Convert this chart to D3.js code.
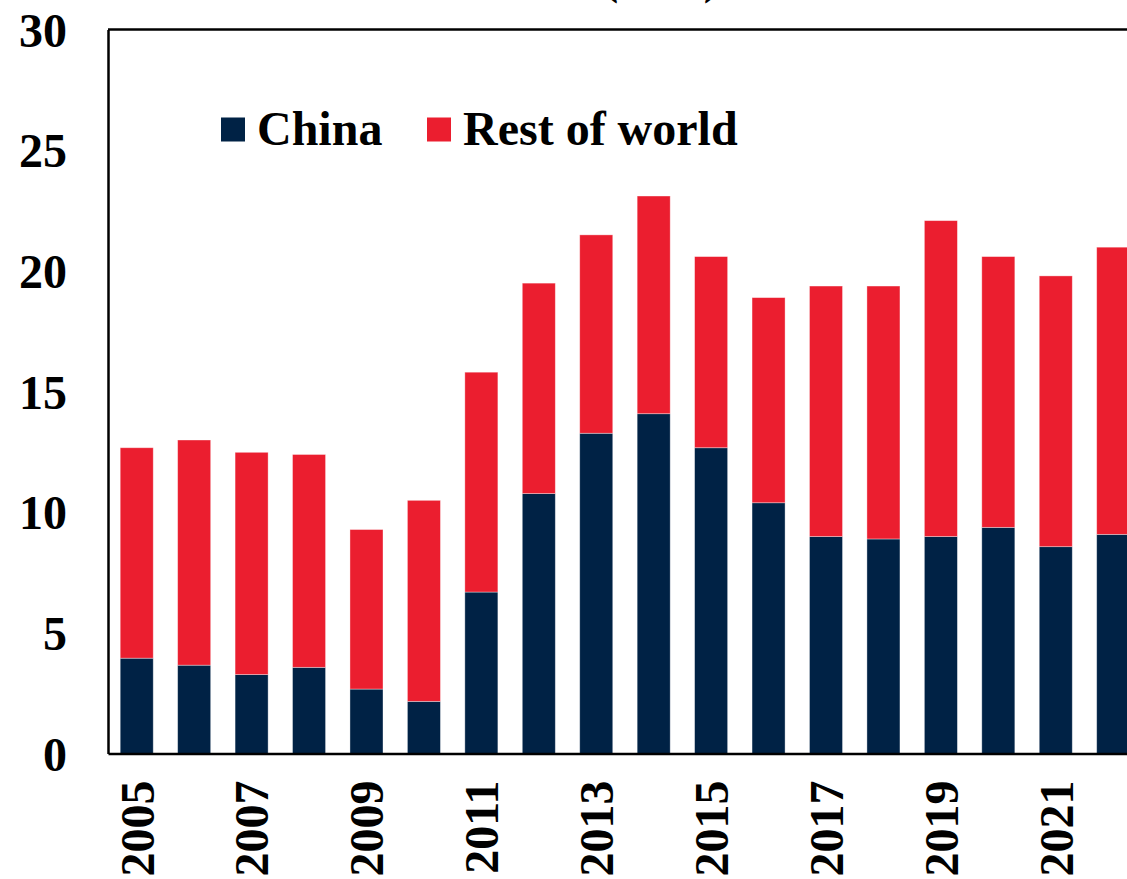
<!DOCTYPE html>
<html>
<head>
<meta charset="utf-8">
<script src="https://cdn.jsdelivr.net/npm/d3@7"></script>
<style>
  html, body { margin: 0; padding: 0; background: #fff; overflow: hidden; }
  svg { display: block; }
  text { font-family: "Liberation Serif", "Times New Roman", serif; font-weight: bold; fill: #000; }
</style>
</head>
<body>
<svg id="chart" width="1127" height="879"></svg>
<script>
// Annual values by year
const years = ["2005","2006","2007","2008","2009","2010","2011","2012","2013","2014",
               "2015","2016","2017","2018","2019","2020","2021","2022"];
const china       = [3.95, 3.66, 3.27, 3.57, 2.67, 2.16, 6.69, 10.77, 13.27, 14.08,
                     12.67, 10.39, 8.99, 8.89, 8.99, 9.37, 8.57, 9.08];
const restOfWorld = [8.72, 9.33, 9.21, 8.82, 6.61, 8.33, 9.11, 8.72, 8.22, 9.02,
                     7.92, 8.50, 10.38, 10.48, 13.09, 11.22, 11.22, 11.90];
const yTicks = [0, 5, 10, 15, 20, 25, 30];
const xTickYears = ["2005","2007","2009","2011","2013","2015","2017","2019","2021"];
const seriesKeys = ["China", "Rest of world"];
const seriesColors = ["#002245", "#EB1E2F"];
const titleText = "(GW)";

const svg = d3.select("#chart");
const plotLeft = 108, plotTop = 29.5, plotBottom = 753.5;
const step = 57.44;
const plotRight = plotLeft + step * years.length;

const x = d3.scaleBand()
  .domain(years)
  .range([plotLeft, plotRight])
  .paddingInner(0.425)
  .paddingOuter(0.2125);

const y = d3.scaleLinear().domain([0, 30]).range([plotBottom, plotTop]);

const rows = years.map((yr, i) => ({ year: yr, "China": china[i], "Rest of world": restOfWorld[i] }));
const stacked = d3.stack().keys(seriesKeys)(rows);
const color = d3.scaleOrdinal().domain(seriesKeys).range(seriesColors);

// Title (sits above the frame, mostly beyond the top edge)
svg.append("text")
  .attr("x", 661).attr("y", -7)
  .attr("text-anchor", "middle")
  .attr("font-size", 48)
  .text(titleText);

// Stacked bars
svg.append("g").selectAll("g")
  .data(stacked)
  .join("g")
  .attr("fill", d => color(d.key))
  .selectAll("rect")
  .data(d => d)
  .join("rect")
  .attr("x", d => x(d.data.year))
  .attr("width", x.bandwidth())
  .attr("y", d => y(d[1]))
  .attr("height", d => y(d[0]) - y(d[1]))
  .attr("stroke", "#ffffff")
  .attr("stroke-opacity", 0.45)
  .attr("stroke-width", 0.8);

// Frame: top border, left axis, bottom axis
svg.append("line").attr("x1", plotLeft).attr("x2", 1137).attr("y1", plotTop).attr("y2", plotTop)
  .attr("stroke", "#000").attr("stroke-width", 2.5);

const yAxis = d3.axisLeft(y).tickValues(yTicks).tickSize(0).tickPadding(41)
  .tickFormat(d3.format("d"));
const gy = svg.append("g").attr("transform", `translate(${plotLeft},0)`).call(yAxis);
gy.select(".domain").attr("stroke", "#000").attr("stroke-width", 2.5);
gy.selectAll("text")
  .attr("font-size", 48)
  .attr("font-family", "Liberation Serif, Times New Roman, serif")
  .attr("font-weight", "bold")
  .attr("fill", "#000")
  .attr("dy", "0.35em");

const xAxis = d3.axisBottom(x).tickSize(0)
  .tickFormat(d => xTickYears.includes(d) ? d : "");
const gx = svg.append("g").attr("transform", `translate(0,${plotBottom})`).call(xAxis);
gx.select(".domain").attr("stroke", "#000").attr("stroke-width", 2.5);
gx.selectAll(".tick text")
  .attr("font-size", 48)
  .attr("font-family", "Liberation Serif, Times New Roman, serif")
  .attr("font-weight", "bold")
  .attr("fill", "#000")
  .attr("text-anchor", "end")
  .attr("transform", "translate(0,27) rotate(-90)")
  .attr("x", 0).attr("y", 0)
  .attr("dy", "0.35em");

// Legend
const legendItems = [
  { key: "China", sx: 221, tx: 257 },
  { key: "Rest of world", sx: 427, tx: 463 }
];
const lg = svg.append("g");
lg.selectAll("rect").data(legendItems).join("rect")
  .attr("x", d => d.sx).attr("y", 117.5)
  .attr("width", 24).attr("height", 24)
  .attr("fill", d => color(d.key));
lg.selectAll("text").data(legendItems).join("text")
  .attr("x", d => d.tx).attr("y", 145)
  .attr("font-size", 48)
  .text(d => d.key);
</script>
</body>
</html>
